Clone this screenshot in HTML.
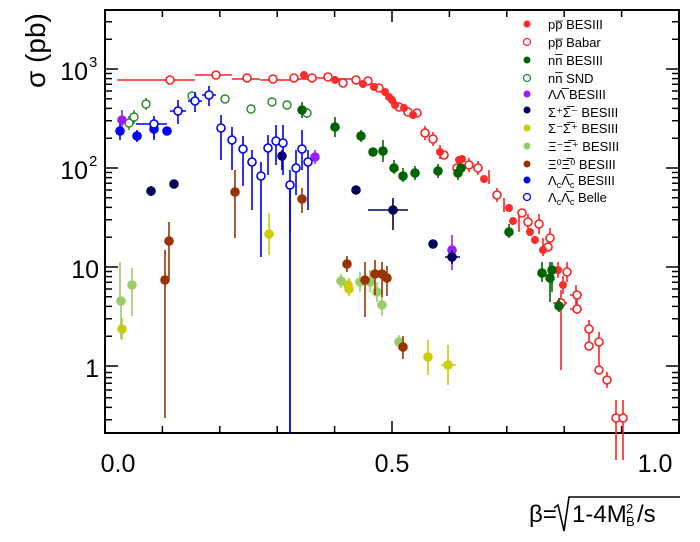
<!DOCTYPE html>
<html><head><meta charset="utf-8"><style>
html,body{margin:0;padding:0;background:#fff;}
svg{display:block;font-family:"Liberation Sans",sans-serif;}
</style></head><body>
<svg width="700" height="542" viewBox="0 0 700 542" xmlns="http://www.w3.org/2000/svg">
<rect width="700" height="542" fill="#fff"/>
<rect x="105" y="10" width="574" height="423" fill="none" stroke="#000" stroke-width="2"/>
<g stroke="#000" stroke-width="1.5">
<path d="M162.4 433v-7M219.8 433v-7M277.2 433v-7M334.6 433v-7M392 433v-12M449.4 433v-7M506.8 433v-7M564.2 433v-7M621.6 433v-7
M162.4 10v7M219.8 10v7M277.2 10v7M334.6 10v7M392 10v12M449.4 10v7M506.8 10v7M564.2 10v7M621.6 10v7"/>
<path d="M105 366h13M105 267h13M105 168h13M105 69h13M679 366h-13M679 267h-13M679 168h-13M679 69h-13"/>
<path d="M105 419.8h7M105 407.4h7M105 397.8h7M105 390h7M105 383.3h7M105 377.6h7M105 372.5h7
M105 336.2h7M105 318.8h7M105 306.4h7M105 296.8h7M105 289h7M105 282.3h7M105 276.6h7M105 271.5h7
M105 237.2h7M105 219.8h7M105 207.4h7M105 197.8h7M105 190h7M105 183.3h7M105 177.6h7M105 172.5h7
M105 138.2h7M105 120.8h7M105 108.4h7M105 98.8h7M105 91h7M105 84.3h7M105 78.6h7M105 73.5h7
M105 39.2h7M105 21.8h7
M679 419.8h-7M679 407.4h-7M679 397.8h-7M679 390h-7M679 383.3h-7M679 377.6h-7M679 372.5h-7
M679 336.2h-7M679 318.8h-7M679 306.4h-7M679 296.8h-7M679 289h-7M679 282.3h-7M679 276.6h-7M679 271.5h-7
M679 237.2h-7M679 219.8h-7M679 207.4h-7M679 197.8h-7M679 190h-7M679 183.3h-7M679 177.6h-7M679 172.5h-7
M679 138.2h-7M679 120.8h-7M679 108.4h-7M679 98.8h-7M679 91h-7M679 84.3h-7M679 78.6h-7M679 73.5h-7
M679 39.2h-7M679 21.8h-7"/>
</g>
<g font-size="25" fill="#000">
<text x="99" y="377" text-anchor="end">1</text>
<text x="99" y="278" text-anchor="end">10</text>
<text x="88" y="179" text-anchor="end">10</text><text x="89" y="166" font-size="15">2</text>
<text x="88" y="80" text-anchor="end">10</text><text x="89" y="67" font-size="15">3</text>
<text x="118" y="472" text-anchor="middle">0.0</text>
<text x="392" y="472" text-anchor="middle">0.5</text>
<text x="655" y="472" text-anchor="middle">1.0</text>
<text transform="translate(45,88) rotate(-90)" font-size="28">σ (pb)</text>
<text x="529" y="522" font-size="24">β=</text>
<path d="M554 508l4-3 6 26 5-34h111" fill="none" stroke="#000" stroke-width="1.6"/>
<text x="572" y="522" font-size="24">1-4M</text>
<text x="626" y="513" font-size="13">2</text>
<text x="626" y="526" font-size="13">B</text>
<text x="637" y="522" font-size="24">/s</text>
</g>

<path d="M290 185V433" stroke="#00f" stroke-width="1.8"/>

<g stroke="#ff2020" stroke-width="1.6" fill="none">
<path d="M117 80H195M195 75H232M232 79H260M260 80H290M290 79H310M310 78H330M330 79H360"/>
<path d="M425 126v14M433 132v14M440 145v14M469 158v14M478 161v14M489 170v14M497 188v14M504 198v14M519 212v20M528 214v16M539 214v20M543 238v18M550 228v20M558 262v16M567 262v20M563 276v18M561 290v80M576 285v20M577 298v16M589 320v30M599 332v40M607 372v16M616 400v60M623 400v60M553 303h14M570 295h12M570 309h12"/>
<g fill="#fff">
<circle cx="170" cy="80" r="4"/><circle cx="216" cy="75" r="4"/><circle cx="247" cy="78" r="4"/><circle cx="273" cy="79" r="4"/><circle cx="294" cy="78" r="4"/><circle cx="312" cy="78" r="4"/><circle cx="328" cy="77" r="4"/><circle cx="343" cy="83" r="4"/><circle cx="356" cy="80" r="4"/><circle cx="368" cy="81" r="4"/><circle cx="379" cy="88" r="4"/><circle cx="399" cy="107" r="4"/><circle cx="408" cy="112" r="4"/><circle cx="417" cy="113" r="4"/><circle cx="425" cy="133" r="4"/><circle cx="433" cy="139" r="4"/><circle cx="444" cy="155" r="4"/><circle cx="457" cy="168" r="4"/><circle cx="469" cy="165" r="4"/><circle cx="478" cy="168" r="4"/><circle cx="497" cy="195" r="4"/><circle cx="522" cy="213" r="4"/><circle cx="528" cy="222" r="4"/><circle cx="539" cy="224" r="4"/><circle cx="548" cy="247" r="4"/><circle cx="550" cy="238" r="4"/><circle cx="567" cy="272" r="4"/><circle cx="561" cy="303" r="4"/><circle cx="577" cy="295" r="4"/><circle cx="577" cy="309" r="4"/><circle cx="589" cy="329" r="4"/><circle cx="589" cy="346" r="4"/><circle cx="599" cy="342" r="4"/><circle cx="599" cy="370" r="4"/><circle cx="607" cy="380" r="4"/><circle cx="616" cy="418" r="4"/><circle cx="623" cy="418" r="4"/>
</g></g>
<g fill="#ff2a2a">
<circle cx="304" cy="75" r="4"/><circle cx="335" cy="80" r="4"/><circle cx="363" cy="84" r="4"/><circle cx="374" cy="87" r="4"/><circle cx="385" cy="92" r="4"/><circle cx="389" cy="97" r="4"/><circle cx="392" cy="100" r="4"/><circle cx="395" cy="105" r="4"/><circle cx="404" cy="108" r="4"/><circle cx="413" cy="115" r="4"/><circle cx="440" cy="152" r="4"/><circle cx="459" cy="160" r="4"/><circle cx="462" cy="159" r="4"/><circle cx="484" cy="179" r="4"/><circle cx="509" cy="208" r="4"/><circle cx="513" cy="221" r="4"/><circle cx="530" cy="232" r="4"/><circle cx="535" cy="240" r="4"/><circle cx="543" cy="250" r="4"/><circle cx="558" cy="270" r="4"/><circle cx="563" cy="285" r="4"/>
</g>

<g stroke="#228b22" stroke-width="1.4" fill="#fff">
<path d="M129 116v14M134 110v14M146 98v12M307 108v10" fill="none"/>
<circle cx="129" cy="123" r="4"/><circle cx="134" cy="117" r="4"/><circle cx="146" cy="104" r="4"/><circle cx="192" cy="96" r="4"/><circle cx="225" cy="99" r="4"/><circle cx="251" cy="109" r="4"/><circle cx="272" cy="102" r="4"/><circle cx="287" cy="105" r="4"/><circle cx="307" cy="113" r="4"/>
</g>
<g stroke="#006400" stroke-width="1.6" fill="#006400">
<path d="M302 102v16M335 117v20M361 130v12M383 140v22M394 160v14M403 168v14M415 166v14M438 164v14M458 166v14M509 224v14M542 262v20M550 262v40M552 262v30M559 298v14"/>
<circle cx="302" cy="110" r="4"/><circle cx="335" cy="127" r="4"/><circle cx="361" cy="136" r="4"/><circle cx="373" cy="152" r="4"/><circle cx="383" cy="151" r="4"/><circle cx="394" cy="168" r="4"/><circle cx="403" cy="176" r="4"/><circle cx="415" cy="173" r="4"/><circle cx="438" cy="171" r="4"/><circle cx="458" cy="173" r="4"/><circle cx="461" cy="168" r="4"/><circle cx="509" cy="232" r="4"/><circle cx="542" cy="273" r="4"/><circle cx="550" cy="278" r="4"/><circle cx="552" cy="270" r="4"/><circle cx="559" cy="306" r="4"/>
</g>
<g stroke="#9b1cff" stroke-width="1.6" fill="#9b1cff">
<path d="M122 110v18M315 150v14M452 235v35"/>
<circle cx="122" cy="120" r="4"/><circle cx="315" cy="157" r="4"/><circle cx="452" cy="250" r="4"/>
</g>
<g stroke="#00005a" stroke-width="1.6" fill="#00005a">
<path d="M151 186v10M282 150v20M368 210h40M393 198v32M445 257h15M452 250v14"/>
<circle cx="151" cy="191" r="4"/><circle cx="174" cy="184" r="4"/><circle cx="282" cy="156" r="4"/><circle cx="356" cy="190" r="4"/><circle cx="393" cy="210" r="4"/><circle cx="433" cy="244" r="4"/><circle cx="452" cy="257" r="4"/>
</g>
<g stroke="#cccc00" stroke-width="1.6" fill="#cccc00">
<path d="M122 318v22M269 213v42M349 278v18M428 340v35M448 345v40M441 365h15"/>
<circle cx="122" cy="329" r="4"/><circle cx="269" cy="234" r="4"/><circle cx="348" cy="285" r="4"/><circle cx="349" cy="289" r="4"/><circle cx="428" cy="357" r="4"/><circle cx="448" cy="365" r="4"/>
</g>
<g stroke="#99cc66" stroke-width="1.6" fill="#99cc66">
<path d="M120 262v42M121 301v38M132 268v48M341 274v14M360 272v20M370 270v22M377 282v20M382 296v20M399 335v14"/>
<circle cx="121" cy="301" r="4"/><circle cx="132" cy="285" r="4"/><circle cx="341" cy="281" r="4"/><circle cx="360" cy="282" r="4"/><circle cx="370" cy="282" r="4"/><circle cx="377" cy="292" r="4"/><circle cx="382" cy="305" r="4"/><circle cx="399" cy="342" r="4"/>
</g>
<g stroke="#993300" stroke-width="1.6" fill="#993300">
<path d="M165 250v168M169 222v56M235 170v68M302 188v25M347 256v16M365 262v55M375 260v35M382 262v35M387 266v30M403 336v23"/>
<circle cx="165" cy="280" r="4"/><circle cx="169" cy="241" r="4"/><circle cx="235" cy="192" r="4"/><circle cx="302" cy="199" r="4"/><circle cx="347" cy="264" r="4"/><circle cx="365" cy="280" r="4"/><circle cx="375" cy="274" r="4"/><circle cx="382" cy="274" r="4"/><circle cx="387" cy="278" r="4"/><circle cx="403" cy="347" r="4"/>
</g>
<g stroke="#0000ff" stroke-width="1.6" fill="#0000ff">
<path d="M120 124v16M137 130v12M154 122v16"/>
<circle cx="120" cy="131" r="4"/><circle cx="137" cy="136" r="4"/><circle cx="154" cy="129" r="4"/><circle cx="167" cy="131" r="4"/>
</g>
<g stroke="#0000ff" stroke-width="1.6" fill="#fff">
<path d="M136 124h31M154 116v24M178 100v24M170 111h16M195 92v20M188 101h14M209 86v20M202 95h14M221 115v45M232 127v43M243 136v50M252 150v60M261 162v95M268 135v40M276 125v40M283 125v50M290 170v63M296 150v45M302 130v40M308 150v60" fill="none"/>
<circle cx="154" cy="124" r="4"/><circle cx="178" cy="111" r="4"/><circle cx="195" cy="101" r="4"/><circle cx="209" cy="95" r="4"/><circle cx="221" cy="128" r="4"/><circle cx="232" cy="140" r="4"/><circle cx="243" cy="149" r="4"/><circle cx="252" cy="162" r="4"/><circle cx="261" cy="176" r="4"/><circle cx="268" cy="148" r="4"/><circle cx="276" cy="141" r="4"/><circle cx="283" cy="143" r="4"/><circle cx="290" cy="185" r="4"/><circle cx="296" cy="168" r="4"/><circle cx="302" cy="149" r="4"/><circle cx="308" cy="162" r="4"/>
</g>

<g font-size="13" fill="#000">
<circle cx="527" cy="24" r="3.5" fill="#ff2a2a"/><text x="548" y="29">pp̅ BESIII</text>
<circle cx="527" cy="42" r="3.5" fill="#fff" stroke="#ff2a2a" stroke-width="1.3"/><text x="548" y="47">pp̅ Babar</text>
<circle cx="527" cy="60" r="3.5" fill="#006400"/><text x="548" y="65">nn̅ BESIII</text>
<circle cx="527" cy="78" r="3.5" fill="#fff" stroke="#228b22" stroke-width="1.3"/><text x="548" y="83">nn̅ SND</text>
<circle cx="527" cy="94" r="3.5" fill="#9b1cff"/><text x="548" y="99">ΛΛ̅ BESIII</text>
<circle cx="527" cy="110" r="3.5" fill="#00005a"/><text x="548" y="117">Σ⁺Σ̅⁻ BESIII</text>
<circle cx="527" cy="128" r="3.5" fill="#cccc00"/><text x="548" y="133">Σ⁻Σ̅⁺ BESIII</text>
<circle cx="527" cy="146" r="3.5" fill="#99cc66"/><text x="548" y="151">Ξ⁻Ξ̅⁺ BESIII</text>
<circle cx="527" cy="164" r="3.5" fill="#993300"/><text x="548" y="169">Ξ⁰Ξ̅⁰ BESIII</text>
<circle cx="527" cy="180" r="3.5" fill="#0000ff"/><text x="548" y="185">Λ<tspan font-size="9" dy="3">c</tspan><tspan dy="-3">Λ̅</tspan><tspan font-size="9" dy="3">c</tspan><tspan dy="-3"> BESIII</tspan></text>
<circle cx="527" cy="197" r="3.5" fill="#fff" stroke="#0000ff" stroke-width="1.3"/><text x="548" y="202">Λ<tspan font-size="9" dy="3">c</tspan><tspan dy="-3">Λ̅</tspan><tspan font-size="9" dy="3">c</tspan><tspan dy="-3"> Belle</tspan></text>
</g>
</svg>
</body></html>
